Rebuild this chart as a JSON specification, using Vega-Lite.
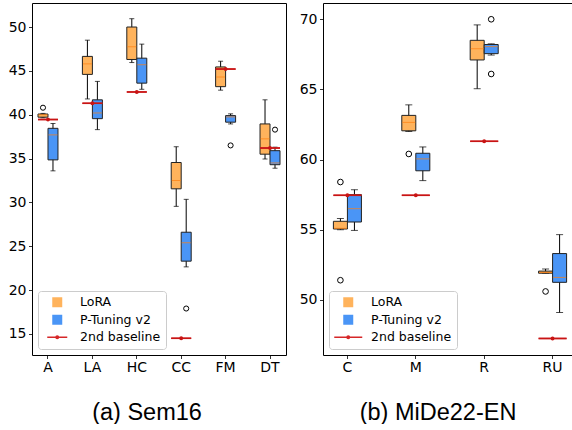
{
  "$schema": "https://vega.github.io/schema/vega-lite/v6.json",
  "padding": {"left": 7, "top": 2, "right": 0, "bottom": 0},
  "background": "white",
  "config": {
    "font": "DejaVu Sans",
    "view": {"stroke": "#000000", "strokeWidth": 1},
    "axis": {"grid": false, "domain": false, "tickColor": "#000000", "tickWidth": 0.8, "tickSize": 3.5, "labelColor": "#000000", "labelFont": "DejaVu Sans", "labelFontSize": 14, "labelPadding": 2.5},
    "axisX": {"labelAngle": 0, "labelPadding": 2, "titleFont": "Liberation Sans", "titleFontSize": 23.5, "titleFontWeight": "normal", "titleColor": "#000000", "titleBaseline": "alphabetic", "titleY": 64, "titleX": 114.5, "titleAlign": "center"},
    "legend": {"orient": "bottom-left", "offset": 6, "padding": 5, "fillColor": "#ffffff", "strokeColor": "#cccccc", "strokeWidth": 1, "cornerRadius": 3, "labelFont": "DejaVu Sans", "labelFontSize": 12.5, "labelColor": "#000000", "symbolSize": 100, "symbolStrokeWidth": 0, "symbolOpacity": 1, "symbolOffset": 8, "rowPadding": 4.5, "labelOffset": 16.5, "title": null}
  },
  "datasets": {
    "sem_box": [
      {"cat": "A", "series": "LoRA", "lo": 39.65, "q1": 39.72, "med": 40.0, "q3": 40.08, "hi": 40.15},
      {"cat": "A", "series": "P-Tuning v2", "lo": 33.6, "q1": 34.85, "med": 37.7, "q3": 38.45, "hi": 39.0},
      {"cat": "LA", "series": "LoRA", "lo": 41.8, "q1": 44.6, "med": 45.8, "q3": 46.65, "hi": 48.5},
      {"cat": "LA", "series": "P-Tuning v2", "lo": 38.3, "q1": 39.55, "med": 40.2, "q3": 41.7, "hi": 43.8},
      {"cat": "HC", "series": "LoRA", "lo": 45.95, "q1": 46.3, "med": 47.75, "q3": 50.0, "hi": 50.95},
      {"cat": "HC", "series": "P-Tuning v2", "lo": 42.9, "q1": 43.6, "med": 45.7, "q3": 46.45, "hi": 48.05},
      {"cat": "CC", "series": "LoRA", "lo": 29.55, "q1": 31.55, "med": 32.5, "q3": 34.55, "hi": 36.35},
      {"cat": "CC", "series": "P-Tuning v2", "lo": 22.65, "q1": 23.3, "med": 25.4, "q3": 26.6, "hi": 30.35},
      {"cat": "FM", "series": "LoRA", "lo": 42.8, "q1": 43.2, "med": 44.3, "q3": 45.45, "hi": 46.1},
      {"cat": "FM", "series": "P-Tuning v2", "lo": 38.95, "q1": 39.15, "med": 39.75, "q3": 39.9, "hi": 40.1},
      {"cat": "DT", "series": "LoRA", "lo": 34.95, "q1": 35.5, "med": 37.25, "q3": 38.95, "hi": 41.7},
      {"cat": "DT", "series": "P-Tuning v2", "lo": 33.9, "q1": 34.3, "med": 34.5, "q3": 35.9, "hi": 36.3}
    ],
    "sem_out": [
      {"cat": "A", "series": "LoRA", "val": 40.8},
      {"cat": "CC", "series": "P-Tuning v2", "val": 17.9},
      {"cat": "FM", "series": "P-Tuning v2", "val": 36.5},
      {"cat": "DT", "series": "P-Tuning v2", "val": 38.3}
    ],
    "sem_base": [
      {"cat": "A", "series": "2nd baseline", "val": 39.45},
      {"cat": "LA", "series": "2nd baseline", "val": 41.3},
      {"cat": "HC", "series": "2nd baseline", "val": 42.6},
      {"cat": "CC", "series": "2nd baseline", "val": 14.5},
      {"cat": "FM", "series": "2nd baseline", "val": 45.2},
      {"cat": "DT", "series": "2nd baseline", "val": 36.2}
    ],
    "mide_box": [
      {"cat": "C", "series": "LoRA", "lo": 55.0, "q1": 55.05, "med": 55.1, "q3": 55.6, "hi": 55.8},
      {"cat": "C", "series": "P-Tuning v2", "lo": 54.95, "q1": 55.55, "med": 56.5, "q3": 57.5, "hi": 57.85},
      {"cat": "M", "series": "LoRA", "lo": 62.0, "q1": 62.05, "med": 62.65, "q3": 63.15, "hi": 63.9},
      {"cat": "M", "series": "P-Tuning v2", "lo": 58.5, "q1": 59.2, "med": 60.05, "q3": 60.45, "hi": 60.9},
      {"cat": "R", "series": "LoRA", "lo": 65.05, "q1": 67.1, "med": 67.9, "q3": 68.5, "hi": 69.6},
      {"cat": "R", "series": "P-Tuning v2", "lo": 67.45, "q1": 67.55, "med": 68.05, "q3": 68.2, "hi": 68.25},
      {"cat": "RU", "series": "LoRA", "lo": 51.9, "q1": 51.9, "med": 51.95, "q3": 52.05, "hi": 52.2},
      {"cat": "RU", "series": "P-Tuning v2", "lo": 49.1, "q1": 51.25, "med": 51.6, "q3": 53.3, "hi": 54.65}
    ],
    "mide_out": [
      {"cat": "C", "series": "LoRA", "val": 58.4},
      {"cat": "C", "series": "LoRA", "val": 51.4},
      {"cat": "M", "series": "LoRA", "val": 60.4},
      {"cat": "R", "series": "P-Tuning v2", "val": 70.0},
      {"cat": "R", "series": "P-Tuning v2", "val": 66.1},
      {"cat": "RU", "series": "LoRA", "val": 50.6}
    ],
    "mide_base": [
      {"cat": "C", "series": "2nd baseline", "val": 57.45},
      {"cat": "M", "series": "2nd baseline", "val": 57.45},
      {"cat": "R", "series": "2nd baseline", "val": 61.3},
      {"cat": "RU", "series": "2nd baseline", "val": 47.25}
    ]
  },
  "hconcat": [
    {
      "width": 254,
      "height": 352,
      "encoding": {
        "x": {"field": "cat", "type": "nominal", "scale": {"domain": ["A", "LA", "HC", "CC", "FM", "DT"], "paddingInner": 0.55, "paddingOuter": 0.135}, "axis": {"title": "(a) Sem16"}}
      },
      "layer": [
        {"data": {"name": "sem_box"}, "mark": {"type": "rule", "color": "#000000", "strokeWidth": 1},
         "encoding": {"xOffset": {"field": "series", "scale": {"domain": ["LoRA", "P-Tuning v2"], "paddingInner": 0, "paddingOuter": 0}},
                      "y": {"field": "lo", "type": "quantitative", "scale": {"domain": [12.6, 52.74], "nice": false, "zero": false}, "axis": {"values": [15, 20, 25, 30, 35, 40, 45, 50], "title": null}},
                      "y2": {"field": "hi"}}},
        {"data": {"name": "sem_box"}, "mark": {"type": "tick", "color": "#000000", "thickness": 1, "orient": "horizontal"},
         "encoding": {"xOffset": {"field": "series", "scale": {"domain": ["LoRA", "P-Tuning v2"], "paddingInner": 0, "paddingOuter": 0}},
                      "y": {"field": "lo", "type": "quantitative", "scale": {"domain": [12.6, 52.74], "nice": false, "zero": false}, "axis": {"values": [15, 20, 25, 30, 35, 40, 45, 50], "title": null}},
                      "size": {"value": 5}}},
        {"data": {"name": "sem_box"}, "mark": {"type": "tick", "color": "#000000", "thickness": 1, "orient": "horizontal"},
         "encoding": {"xOffset": {"field": "series", "scale": {"domain": ["LoRA", "P-Tuning v2"], "paddingInner": 0, "paddingOuter": 0}},
                      "y": {"field": "hi", "type": "quantitative", "scale": {"domain": [12.6, 52.74], "nice": false, "zero": false}, "axis": {"values": [15, 20, 25, 30, 35, 40, 45, 50], "title": null}},
                      "size": {"value": 5}}},
        {"data": {"name": "sem_box"}, "mark": {"type": "bar", "stroke": "#222222", "strokeWidth": 1, "opacity": 1},
         "encoding": {"xOffset": {"field": "series", "scale": {"domain": ["LoRA", "P-Tuning v2"], "paddingInner": 0, "paddingOuter": 0}},
                      "y": {"field": "q1", "type": "quantitative", "scale": {"domain": [12.6, 52.74], "nice": false, "zero": false}, "axis": {"values": [15, 20, 25, 30, 35, 40, 45, 50], "title": null}},
                      "y2": {"field": "q3"},
                      "color": {"field": "series", "type": "nominal", "scale": {"domain": ["LoRA", "P-Tuning v2", "2nd baseline"], "range": ["#ffb35c", "#4a95f6", "#d62728"]}}}},
        {"data": {"name": "sem_box"}, "mark": {"type": "tick", "color": "#ff7f0e", "thickness": 1, "orient": "horizontal"},
         "encoding": {"xOffset": {"field": "series", "scale": {"domain": ["LoRA", "P-Tuning v2"], "paddingInner": 0, "paddingOuter": 0}},
                      "y": {"field": "med", "type": "quantitative", "scale": {"domain": [12.6, 52.74], "nice": false, "zero": false}, "axis": {"values": [15, 20, 25, 30, 35, 40, 45, 50], "title": null}},
                      "size": {"value": 9}}},
        {"data": {"name": "sem_out"}, "mark": {"type": "point", "shape": "circle", "filled": false, "color": "#000000", "strokeWidth": 1, "size": 26, "opacity": 1},
         "encoding": {"xOffset": {"field": "series", "scale": {"domain": ["LoRA", "P-Tuning v2"], "paddingInner": 0, "paddingOuter": 0}},
                      "y": {"field": "val", "type": "quantitative", "scale": {"domain": [12.6, 52.74], "nice": false, "zero": false}, "axis": {"values": [15, 20, 25, 30, 35, 40, 45, 50], "title": null}}}},
        {"data": {"name": "sem_base"}, "mark": {"type": "tick", "thickness": 1.5, "orient": "horizontal", "opacity": 1},
         "encoding": {"y": {"field": "val", "type": "quantitative", "scale": {"domain": [12.6, 52.74], "nice": false, "zero": false}, "axis": {"values": [15, 20, 25, 30, 35, 40, 45, 50], "title": null}},
                      "size": {"value": 20},
                      "color": {"field": "series", "type": "nominal", "scale": {"domain": ["LoRA", "P-Tuning v2", "2nd baseline"], "range": ["#ffb35c", "#4a95f6", "#d62728"]}}}},
        {"data": {"name": "sem_base"}, "mark": {"type": "point", "filled": true, "color": "#c81414", "size": 100, "opacity": 1},
         "encoding": {"y": {"field": "val", "type": "quantitative", "scale": {"domain": [12.6, 52.74], "nice": false, "zero": false}, "axis": {"values": [15, 20, 25, 30, 35, 40, 45, 50], "title": null}},
                      "shape": {"field": "series", "type": "nominal", "scale": {"domain": ["LoRA", "P-Tuning v2", "2nd baseline"], "range": ["square", "square", "M-2,-0.15H2V0.15H-2Z M-0.4,0A0.4,0.4,0,1,1,0.4,0A0.4,0.4,0,1,1,-0.4,0Z"]}}}}
      ]
    },
    {
      "width": 254,
      "height": 352,
      "encoding": {
        "x": {"field": "cat", "type": "nominal", "scale": {"domain": ["C", "M", "R", "RU"], "paddingInner": 0.59, "paddingOuter": 0.152}, "axis": {"title": "(b) MiDe22-EN"}}
      },
      "layer": [
        {"data": {"name": "mide_box"}, "mark": {"type": "rule", "color": "#000000", "strokeWidth": 1},
         "encoding": {"xOffset": {"field": "series", "scale": {"domain": ["LoRA", "P-Tuning v2"], "paddingInner": 0, "paddingOuter": 0}},
                      "y": {"field": "lo", "type": "quantitative", "scale": {"domain": [46.07, 71.16], "nice": false, "zero": false}, "axis": {"values": [50, 55, 60, 65, 70], "title": null}},
                      "y2": {"field": "hi"}}},
        {"data": {"name": "mide_box"}, "mark": {"type": "tick", "color": "#000000", "thickness": 1, "orient": "horizontal"},
         "encoding": {"xOffset": {"field": "series", "scale": {"domain": ["LoRA", "P-Tuning v2"], "paddingInner": 0, "paddingOuter": 0}},
                      "y": {"field": "lo", "type": "quantitative", "scale": {"domain": [46.07, 71.16], "nice": false, "zero": false}, "axis": {"values": [50, 55, 60, 65, 70], "title": null}},
                      "size": {"value": 7}}},
        {"data": {"name": "mide_box"}, "mark": {"type": "tick", "color": "#000000", "thickness": 1, "orient": "horizontal"},
         "encoding": {"xOffset": {"field": "series", "scale": {"domain": ["LoRA", "P-Tuning v2"], "paddingInner": 0, "paddingOuter": 0}},
                      "y": {"field": "hi", "type": "quantitative", "scale": {"domain": [46.07, 71.16], "nice": false, "zero": false}, "axis": {"values": [50, 55, 60, 65, 70], "title": null}},
                      "size": {"value": 7}}},
        {"data": {"name": "mide_box"}, "mark": {"type": "bar", "stroke": "#222222", "strokeWidth": 1, "opacity": 1},
         "encoding": {"xOffset": {"field": "series", "scale": {"domain": ["LoRA", "P-Tuning v2"], "paddingInner": 0, "paddingOuter": 0}},
                      "y": {"field": "q1", "type": "quantitative", "scale": {"domain": [46.07, 71.16], "nice": false, "zero": false}, "axis": {"values": [50, 55, 60, 65, 70], "title": null}},
                      "y2": {"field": "q3"},
                      "color": {"field": "series", "type": "nominal", "scale": {"domain": ["LoRA", "P-Tuning v2", "2nd baseline"], "range": ["#ffb35c", "#4a95f6", "#d62728"]}}}},
        {"data": {"name": "mide_box"}, "mark": {"type": "tick", "color": "#ff7f0e", "thickness": 1, "orient": "horizontal"},
         "encoding": {"xOffset": {"field": "series", "scale": {"domain": ["LoRA", "P-Tuning v2"], "paddingInner": 0, "paddingOuter": 0}},
                      "y": {"field": "med", "type": "quantitative", "scale": {"domain": [46.07, 71.16], "nice": false, "zero": false}, "axis": {"values": [50, 55, 60, 65, 70], "title": null}},
                      "size": {"value": 13}}},
        {"data": {"name": "mide_out"}, "mark": {"type": "point", "shape": "circle", "filled": false, "color": "#000000", "strokeWidth": 1, "size": 32, "opacity": 1},
         "encoding": {"xOffset": {"field": "series", "scale": {"domain": ["LoRA", "P-Tuning v2"], "paddingInner": 0, "paddingOuter": 0}},
                      "y": {"field": "val", "type": "quantitative", "scale": {"domain": [46.07, 71.16], "nice": false, "zero": false}, "axis": {"values": [50, 55, 60, 65, 70], "title": null}}}},
        {"data": {"name": "mide_base"}, "mark": {"type": "tick", "thickness": 1.5, "orient": "horizontal", "opacity": 1},
         "encoding": {"y": {"field": "val", "type": "quantitative", "scale": {"domain": [46.07, 71.16], "nice": false, "zero": false}, "axis": {"values": [50, 55, 60, 65, 70], "title": null}},
                      "size": {"value": 28},
                      "color": {"field": "series", "type": "nominal", "scale": {"domain": ["LoRA", "P-Tuning v2", "2nd baseline"], "range": ["#ffb35c", "#4a95f6", "#d62728"]}}}},
        {"data": {"name": "mide_base"}, "mark": {"type": "point", "filled": true, "color": "#c81414", "size": 100, "opacity": 1},
         "encoding": {"y": {"field": "val", "type": "quantitative", "scale": {"domain": [46.07, 71.16], "nice": false, "zero": false}, "axis": {"values": [50, 55, 60, 65, 70], "title": null}},
                      "shape": {"field": "series", "type": "nominal", "scale": {"domain": ["LoRA", "P-Tuning v2", "2nd baseline"], "range": ["square", "square", "M-2.8,-0.15H2.8V0.15H-2.8Z M-0.4,0A0.4,0.4,0,1,1,0.4,0A0.4,0.4,0,1,1,-0.4,0Z"]}}}}
      ]
    }
  ],
  "spacing": 37,
  "bounds": "flush",
  "resolve": {"scale": {"color": "independent", "shape": "independent", "x": "independent", "y": "independent", "xOffset": "independent"}, "legend": {"color": "independent", "shape": "independent"}}
}
